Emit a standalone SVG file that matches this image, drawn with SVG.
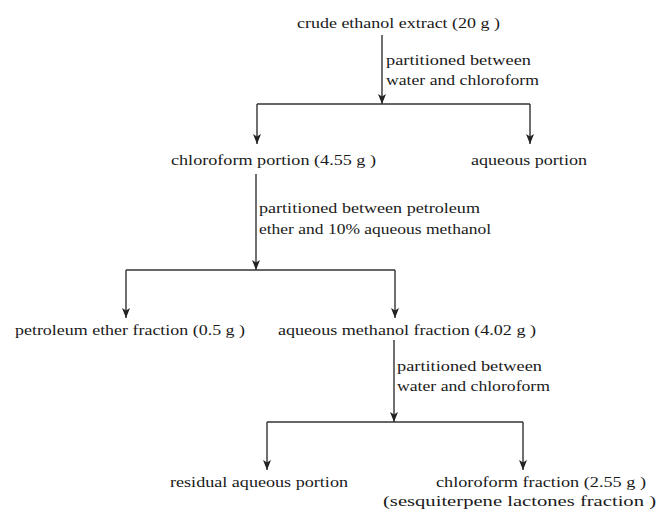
<svg xmlns="http://www.w3.org/2000/svg" width="658" height="510" viewBox="0 0 658 510">
<style>
text{font-family:"Liberation Serif","DejaVu Serif",serif;font-size:14px;fill:#1a1a1a}
.c{stroke:#333;stroke-width:1.4;fill:none}
.a{marker-end:url(#ah)}
</style>
<defs>
<marker id="ah" markerWidth="10" markerHeight="8" refX="10" refY="4" orient="auto" markerUnits="userSpaceOnUse" viewBox="0 0 10 8">
<path d="M0,0 L2.5,4 L0,8 L10,4 Z" fill="#222"/>
</marker>
</defs>
<rect width="658" height="510" fill="#fff"/>
<g id="connectors">
<line class="c a" x1="382" y1="35" x2="382" y2="104"/>
<polyline class="c" points="257,104 530,104"/>
<line class="c a" x1="257" y1="104" x2="257" y2="144"/>
<line class="c a" x1="530" y1="104" x2="530" y2="144"/>
<line class="c a" x1="256" y1="174" x2="256" y2="270"/>
<polyline class="c" points="126,270 395,270"/>
<line class="c a" x1="126" y1="270" x2="126" y2="318"/>
<line class="c a" x1="395" y1="270" x2="395" y2="318"/>
<line class="c a" x1="394" y1="340" x2="394" y2="422"/>
<polyline class="c" points="267,422 523,422"/>
<line class="c a" x1="267" y1="422" x2="267" y2="470"/>
<line class="c a" x1="523" y1="422" x2="523" y2="470"/>
</g>
<g font-family="Liberation Serif, DejaVu Serif, serif">
<g id="n-crude"><text x="297" y="28" textLength="203" lengthAdjust="spacingAndGlyphs">crude ethanol extract (20 g )</text></g>
<g id="l-1"><text x="386" y="65" textLength="145" lengthAdjust="spacingAndGlyphs">partitioned between</text><text x="386" y="85" textLength="153" lengthAdjust="spacingAndGlyphs">water and chloroform</text></g>
<g id="n-chloro"><text x="171" y="165" textLength="205" lengthAdjust="spacingAndGlyphs">chloroform portion (4.55 g )</text></g>
<g id="n-aqueous"><text x="471" y="165" textLength="116" lengthAdjust="spacingAndGlyphs">aqueous portion</text></g>
<g id="l-2"><text x="259" y="213" textLength="221" lengthAdjust="spacingAndGlyphs">partitioned between petroleum</text><text x="259" y="234" textLength="232" lengthAdjust="spacingAndGlyphs">ether and 10% aqueous methanol</text></g>
<g id="n-petrol"><text x="15" y="335" textLength="230" lengthAdjust="spacingAndGlyphs">petroleum ether fraction (0.5 g )</text></g>
<g id="n-aqmeth"><text x="278" y="335" textLength="258" lengthAdjust="spacingAndGlyphs">aqueous methanol fraction (4.02 g )</text></g>
<g id="l-3"><text x="397" y="371" textLength="145" lengthAdjust="spacingAndGlyphs">partitioned between</text><text x="397" y="391" textLength="153" lengthAdjust="spacingAndGlyphs">water and chloroform</text></g>
<g id="n-residual"><text x="170" y="487" textLength="178" lengthAdjust="spacingAndGlyphs">residual aqueous portion</text></g>
<g id="n-chlorofrac"><text x="436" y="487" textLength="210" lengthAdjust="spacingAndGlyphs">chloroform fraction (2.55 g )</text><text x="383" y="506" textLength="273" lengthAdjust="spacingAndGlyphs">(sesquiterpene lactones fraction )</text></g>
</g>
</svg>
